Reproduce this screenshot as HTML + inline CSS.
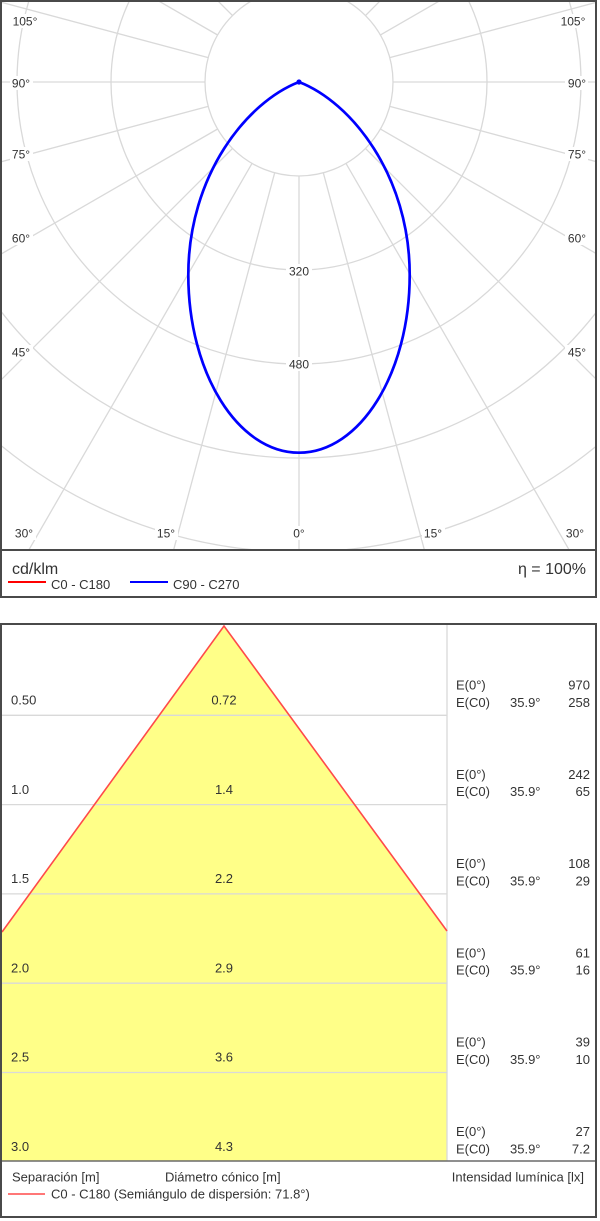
<!DOCTYPE html>
<html>
<head>
<meta charset="utf-8">
<style>
  html,body{margin:0;padding:0;background:#fff;}
  svg{display:block;}
  text{font-family:"Liberation Sans",Arial,sans-serif;fill:#333;}
</style>
</head>
<body>
<svg width="600" height="1221" viewBox="0 0 600 1221" xmlns="http://www.w3.org/2000/svg">
  <defs>
    <clipPath id="plotclip"><rect x="2" y="2" width="593" height="548"/></clipPath>
  </defs>
  <rect x="0" y="0" width="600" height="1221" fill="#fff"/>

  <!-- ===== TOP PANEL: polar ===== -->
  <g clip-path="url(#plotclip)">
    <g transform="translate(299,82)" stroke="#d9d9d9" stroke-width="1.3" fill="none">
      <circle r="94"/>
      <circle r="188"/>
      <circle r="282"/>
      <circle r="376"/>
      <circle r="470"/>
      <circle r="564"/>
      <line x1="0" y1="94" x2="0" y2="720" transform="rotate(0)"/>
      <line x1="0" y1="94" x2="0" y2="720" transform="rotate(15)"/>
      <line x1="0" y1="94" x2="0" y2="720" transform="rotate(30)"/>
      <line x1="0" y1="94" x2="0" y2="720" transform="rotate(45)"/>
      <line x1="0" y1="94" x2="0" y2="720" transform="rotate(60)"/>
      <line x1="0" y1="94" x2="0" y2="720" transform="rotate(75)"/>
      <line x1="0" y1="94" x2="0" y2="720" transform="rotate(90)"/>
      <line x1="0" y1="94" x2="0" y2="720" transform="rotate(105)"/>
      <line x1="0" y1="94" x2="0" y2="720" transform="rotate(120)"/>
      <line x1="0" y1="94" x2="0" y2="720" transform="rotate(135)"/>
      <line x1="0" y1="94" x2="0" y2="720" transform="rotate(150)"/>
      <line x1="0" y1="94" x2="0" y2="720" transform="rotate(165)"/>
      <line x1="0" y1="94" x2="0" y2="720" transform="rotate(180)"/>
      <line x1="0" y1="94" x2="0" y2="720" transform="rotate(195)"/>
      <line x1="0" y1="94" x2="0" y2="720" transform="rotate(210)"/>
      <line x1="0" y1="94" x2="0" y2="720" transform="rotate(225)"/>
      <line x1="0" y1="94" x2="0" y2="720" transform="rotate(240)"/>
      <line x1="0" y1="94" x2="0" y2="720" transform="rotate(255)"/>
      <line x1="0" y1="94" x2="0" y2="720" transform="rotate(270)"/>
      <line x1="0" y1="94" x2="0" y2="720" transform="rotate(285)"/>
      <line x1="0" y1="94" x2="0" y2="720" transform="rotate(300)"/>
      <line x1="0" y1="94" x2="0" y2="720" transform="rotate(315)"/>
      <line x1="0" y1="94" x2="0" y2="720" transform="rotate(330)"/>
      <line x1="0" y1="94" x2="0" y2="720" transform="rotate(345)"/>
    </g>

    <!-- label backgrounds -->
    <g fill="#fff">
      <rect x="10" y="14" width="31" height="14"/>
      <rect x="10" y="76" width="23" height="14"/>
      <rect x="10" y="147" width="23" height="14"/>
      <rect x="10" y="231" width="23" height="14"/>
      <rect x="10" y="345" width="23" height="14"/>
      <rect x="13" y="526" width="23" height="14"/>
      <rect x="155" y="526" width="23" height="14"/>
      <rect x="291" y="526" width="17" height="14"/>
      <rect x="422" y="526" width="23" height="14"/>
      <rect x="564" y="526" width="23" height="14"/>
      <rect x="565" y="345" width="23" height="14"/>
      <rect x="565" y="231" width="23" height="14"/>
      <rect x="565" y="147" width="23" height="14"/>
      <rect x="565" y="76" width="23" height="14"/>
      <rect x="557" y="14" width="31" height="14"/>
      <rect x="286" y="264" width="26" height="14"/>
      <rect x="286" y="357" width="26" height="14"/>
    </g>
    <g font-size="12" text-anchor="middle">
      <text x="25" y="25.5">105°</text>
      <text x="21" y="87.5">90°</text>
      <text x="21" y="158.5">75°</text>
      <text x="21" y="242.5">60°</text>
      <text x="21" y="356.5">45°</text>
      <text x="24" y="537.5">30°</text>
      <text x="166" y="537.5">15°</text>
      <text x="299" y="537.5">0°</text>
      <text x="433" y="537.5">15°</text>
      <text x="575" y="537.5">30°</text>
      <text x="577" y="356.5">45°</text>
      <text x="577" y="242.5">60°</text>
      <text x="577" y="158.5">75°</text>
      <text x="577" y="87.5">90°</text>
      <text x="573" y="25.5">105°</text>
      <text x="299" y="275.5">320</text>
      <text x="299" y="368.5">480</text>
    </g>

    <!-- curve -->
    <g fill="none" stroke="#0000ff" stroke-width="2.7" stroke-linecap="round" stroke-linejoin="round">
      <path d="M299,452.7 C237.9,452.7 188.3,373.1 188.3,275 C188.3,175 247,102 299,82"/>
      <path transform="matrix(-1 0 0 1 598 0)" d="M299,452.7 C237.9,452.7 188.3,373.1 188.3,275 C188.3,175 247,102 299,82"/>
    </g>
    <circle cx="299" cy="82" r="2.6" fill="#0000ff"/>
  </g>

  <!-- top panel frame + legend -->
  <rect x="1" y="1" width="595" height="596" fill="none" stroke="#4a4a4a" stroke-width="2"/>
  <line x1="1" y1="550" x2="596" y2="550" stroke="#4a4a4a" stroke-width="2"/>
  <text x="12" y="574" font-size="16">cd/klm</text>
  <text x="586" y="574" font-size="16" text-anchor="end">η = 100%</text>
  <line x1="8" y1="582" x2="46" y2="582" stroke="#ff0000" stroke-width="2"/>
  <text x="51" y="589" font-size="13">C0 - C180</text>
  <line x1="130" y1="582" x2="168" y2="582" stroke="#0000ff" stroke-width="2"/>
  <text x="173" y="589" font-size="13">C90 - C270</text>

  <!-- ===== BOTTOM PANEL ===== -->
  <polygon points="224,626 447,931 447,1161 2,1161 2,932" fill="#ffff88"/>
  <g stroke="#d9d9d9" stroke-width="1.3">
    <line x1="2" y1="715.3" x2="447" y2="715.3"/>
    <line x1="2" y1="804.6" x2="447" y2="804.6"/>
    <line x1="2" y1="893.9" x2="447" y2="893.9"/>
    <line x1="2" y1="983.2" x2="447" y2="983.2"/>
    <line x1="2" y1="1072.5" x2="447" y2="1072.5"/>
    <line x1="447" y1="625" x2="447" y2="1161"/>
  </g>
  <polyline points="2,932 224,626 447,931" fill="none" stroke="#ff4a4a" stroke-width="1.6"/>
  <line x1="1" y1="1161" x2="596" y2="1161" stroke="#6a6a6a" stroke-width="1.6"/>

  <g font-size="13">
    <text x="11" y="704.5">0.50</text>
    <text x="11" y="793.8">1.0</text>
    <text x="11" y="883.1">1.5</text>
    <text x="11" y="972.4">2.0</text>
    <text x="11" y="1061.7">2.5</text>
    <text x="11" y="1151">3.0</text>
  </g>
  <g font-size="13" text-anchor="middle">
    <text x="224" y="704.5">0.72</text>
    <text x="224" y="793.8">1.4</text>
    <text x="224" y="883.1">2.2</text>
    <text x="224" y="972.4">2.9</text>
    <text x="224" y="1061.7">3.6</text>
    <text x="224" y="1151">4.3</text>
  </g>

  <!-- right column -->
  <g font-size="13">
    <text x="456" y="689.5">E(0°)</text>
    <text x="456" y="706.8">E(C0)</text>
    <text x="510" y="706.8">35.9°</text>
    <text x="456" y="778.8">E(0°)</text>
    <text x="456" y="796.1">E(C0)</text>
    <text x="510" y="796.1">35.9°</text>
    <text x="456" y="868.1">E(0°)</text>
    <text x="456" y="885.4">E(C0)</text>
    <text x="510" y="885.4">35.9°</text>
    <text x="456" y="957.4">E(0°)</text>
    <text x="456" y="974.7">E(C0)</text>
    <text x="510" y="974.7">35.9°</text>
    <text x="456" y="1046.7">E(0°)</text>
    <text x="456" y="1064">E(C0)</text>
    <text x="510" y="1064">35.9°</text>
    <text x="456" y="1136">E(0°)</text>
    <text x="456" y="1153.3">E(C0)</text>
    <text x="510" y="1153.3">35.9°</text>
  </g>
  <g font-size="13" text-anchor="end">
    <text x="590" y="689.5">970</text>
    <text x="590" y="706.8">258</text>
    <text x="590" y="778.8">242</text>
    <text x="590" y="796.1">65</text>
    <text x="590" y="868.1">108</text>
    <text x="590" y="885.4">29</text>
    <text x="590" y="957.4">61</text>
    <text x="590" y="974.7">16</text>
    <text x="590" y="1046.7">39</text>
    <text x="590" y="1064">10</text>
    <text x="590" y="1136">27</text>
    <text x="590" y="1153.3">7.2</text>
  </g>

  <!-- bottom legend -->
  <text x="12" y="1181.5" font-size="13">Separación [m]</text>
  <text x="165" y="1181.5" font-size="13">Diámetro cónico [m]</text>
  <text x="584" y="1181.5" font-size="13" text-anchor="end">Intensidad lumínica [lx]</text>
  <line x1="8" y1="1194" x2="45" y2="1194" stroke="#ff4a4a" stroke-width="1.6"/>
  <text x="51" y="1198.5" font-size="13">C0 - C180 (Semiángulo de dispersión: 71.8°)</text>

  <rect x="1" y="624" width="595" height="593" fill="none" stroke="#4a4a4a" stroke-width="2"/>
</svg>
</body>
</html>
